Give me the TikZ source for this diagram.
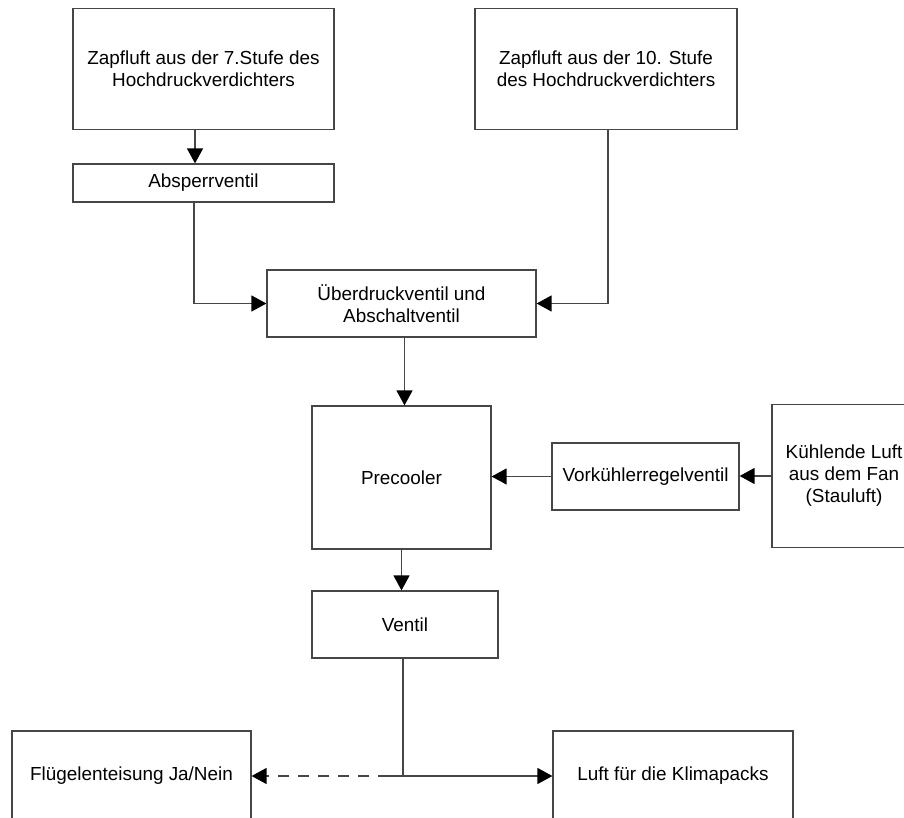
\documentclass[tikz,border=0pt]{standalone}
\usepackage{fontspec}
\setmainfont{Liberation Sans}
\usetikzlibrary{arrows.meta}
\definecolor{linegray}{RGB}{70,70,70}
\begin{document}
\begin{tikzpicture}[x=1pt,y=-1pt,
  box/.style={draw=linegray, line width=1.2pt, fill=white, align=center,
    inner sep=0pt, font=\fontsize{18.9}{22}\selectfont},
  conn/.style={draw=linegray, line width=1.3pt},
  arr/.style={conn, -{Triangle[length=15pt,width=16pt,color=black]}}]
\useasboundingbox (0,0) rectangle (904,818);
\clip (0,0) rectangle (904,818);

% boxes
\node[box, minimum width=261pt, minimum height=121pt] (z7) at (203.5,69)
  {Zapfluft aus der 7.Stufe des\\Hochdruckverdichters};
\node[box, minimum width=262pt, minimum height=121pt] (z10) at (606,69)
  {Zapfluft aus der 10. Stufe\\des Hochdruckverdichters};
\node[box, minimum width=261pt, minimum height=38pt] (absp) at (203.5,183)
  {Absperrventil};
\node[box, minimum width=269pt, minimum height=67pt] (ueb) at (401.5,303.5)
  {Überdruckventil und\\Abschaltventil};
\node[box, minimum width=179pt, minimum height=143pt] (pre) at (401.5,477.5)
  {Precooler};
\node[box, minimum width=187pt, minimum height=67pt] (vork) at (645.5,476.5)
  {Vorkühlerregelventil};
\node[box, minimum width=144pt, minimum height=143pt] (kuehl) at (844,476)
  {Kühlende Luft\\aus dem Fan\\(Stauluft)};
\node[box, minimum width=186pt, minimum height=67pt] (vent) at (405,624.5)
  {Ventil};
\node[box, minimum width=239pt, minimum height=90pt] (flug) at (131.5,776)
  {Flügelenteisung Ja/Nein};
\node[box, minimum width=240pt, minimum height=90pt] (luft) at (673,776)
  {Luft für die Klimapacks};

% connectors
\draw[arr] ([xshift=-8.5pt]z7.south) -- ([xshift=-8.5pt]absp.north);
\draw[arr] ([xshift=-9.5pt]absp.south) |- (ueb.west);
\draw[arr] ([xshift=2pt]z10.south) |- (ueb.east);
\draw[arr] ([xshift=3pt]ueb.south) -- ([xshift=3pt]pre.north);
\draw[arr] (kuehl.west) -- (kuehl.west -| vork.east);
\draw[arr] (vork.west) -- (vork.west -| pre.east);
\draw[arr] (pre.south) -- (pre.south |- vent.north);
\coordinate (j) at ([xshift=-2pt]vent.south |- luft.west);
\draw[arr] ([xshift=-2pt]vent.south) -- (j) -- (luft.west);
\draw[conn] ([xshift=-14pt]j) -- (j);
\draw[arr, dash pattern=on 11pt off 9pt] ([xshift=-14pt]j) -- (flug.east);
\end{tikzpicture}
\end{document}
